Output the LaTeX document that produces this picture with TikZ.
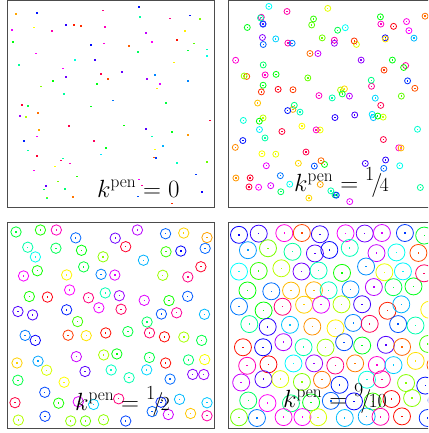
\documentclass[tikz,border=0pt]{standalone}
\usepackage{graphicx}
\newcommand{\penfrac}[2]{\raisebox{0.42em}{\fontsize{20}{20}\selectfont#1}\kern-0.12em/\kern-0.12em{\fontsize{20}{20}\selectfont#2}}
\newcommand{\grain}[4]{%
  \definecolor{graincol}{hsb}{#4,1,1}%
  \draw[graincol,line width=0.8pt] (#1,#2) circle (#3);
  \fill[graincol] (#1-0.7,#2-0.7) rectangle (#1+0.7,#2+0.7);}

\begin{document}
\begin{tikzpicture}[x=1pt,y=-1pt,
    panelbox/.style={draw=black!70,line width=1.3pt},
    penlabel/.style={anchor=base west,inner sep=0pt,font=\fontsize{24}{28}\selectfont}
]
\useasboundingbox (0,0) rectangle (428,433);
\clip (0,0) rectangle (428,433);
\pgfmathsetseed{7}
% k^pen = 0
\foreach \n in {1,...,95}{
  \pgfmathsetmacro\gx{12+rnd*198}
  \pgfmathsetmacro\gy{4+rnd*200}
  \pgfmathsetmacro\gh{rnd}
  \definecolor{graincol}{hsb}{\gh,1,1}
  \fill[graincol] (\gx-1,\gy-0.8) rectangle (\gx+1,\gy+0.8);
}
% k^pen = 1/4
\foreach \n in {1,...,115}{
  \pgfmathsetmacro\gx{234+rnd*192}
  \pgfmathsetmacro\gy{5+rnd*198}
  \pgfmathsetmacro\gh{rnd}
  \grain{\gx}{\gy}{3}{\gh}
}
% k^pen = 1/2
\foreach \i in {0,...,9}{
  \foreach \j in {0,...,9}{
    \pgfmathtruncatemacro\keep{rnd>0.06}
    \ifnum\keep=1
      \pgfmathsetmacro\gx{min(max(17.85+\i*20.7+mod(\j,2)*4+(rnd-0.5)*15,15),207)}
      \pgfmathsetmacro\gy{min(max(232.85+\j*20.6+(rnd-0.5)*15,230),421)}
      \pgfmathsetmacro\gh{rnd}
      \grain{\gx}{\gy}{5.2}{\gh}
    \fi
  }
}
% k^pen = 9/10
\foreach \i in {0,...,9}{
  \foreach \j in {0,...,10}{
    \pgfmathsetmacro\gx{max(239+\i*20.7+mod(\j,2)*10.35+(rnd-0.5)*8,239)}
    \pgfmathsetmacro\gy{min(max(232.5+\j*18.7+(rnd-0.5)*7,233),418)}
    \pgfmathsetmacro\gh{rnd}
    \grain{\gx}{\gy}{8.5}{\gh}
  }
}
\draw[panelbox] (7.5,0.5) rectangle (214.5,207.5);
\draw[panelbox] (228.5,0.5) rectangle (435.5,207.5);
\draw[panelbox] (7.5,222.5) rectangle (214.5,428.5);
\draw[panelbox] (228.5,222.5) rectangle (435.5,428.5);
\node[penlabel] (penzero) at (97,197) {$k^{\mathrm{pen}} = 0$};
\node[penlabel] (penquarter) at (294,191) {$k^{\mathrm{pen}} = {}$\penfrac{1}{4}};
\node[penlabel] (penhalf) at (75,410) {$k^{\mathrm{pen}} = {}$\penfrac{1}{2}};
\node[penlabel] (pennine) at (283,407) {$k^{\mathrm{pen}} = {}$\penfrac{9}{10}};
\end{tikzpicture}
\end{document}
